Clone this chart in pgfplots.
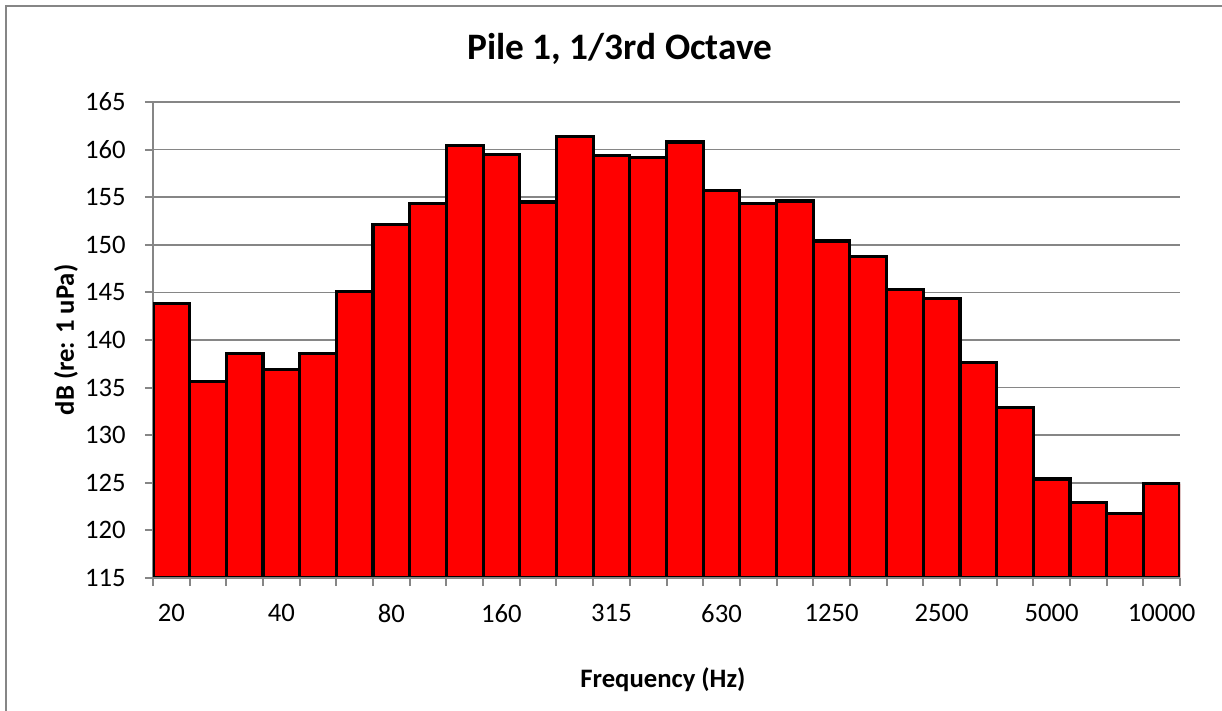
\documentclass[border=0pt]{standalone}
\usepackage{pgfplots}
\pgfplotsset{compat=1.18}
\usepackage{pgfplotstable}
\usepackage{fontspec}
\setmainfont{Carlito}
\definecolor{axisgray}{HTML}{868686}
\definecolor{barred}{HTML}{FF0000}
\pgfplotstableread{
x y
0 143.8
1 135.6
2 138.6
3 136.9
4 138.6
5 145.1
6 152.1
7 154.3
8 160.4
9 159.5
10 154.5
11 161.35
12 159.4
13 159.2
14 160.8
15 155.7
16 154.3
17 154.6
18 150.4
19 148.8
20 145.3
21 144.4
22 137.6
23 132.95
24 125.4
25 122.9
26 121.8
27 124.9
}\pileone
\begin{document}
\begin{tikzpicture}
\path[use as bounding box] (0,0) rectangle (458.25pt,266.625pt);
\draw[axisgray, line width=0.75pt] (2.25pt,0) -- (2.25pt,264.56pt) -- (458.25pt,264.56pt);
\begin{axis}[
  at={(57.375pt,49.875pt)}, anchor=south west,
  scale only axis, width=385.125pt, height=178.5pt,
  xmin=-0.5, xmax=27.5, ymin=115, ymax=165,
  ytick={115,120,...,165},
  xtick={0,3,...,27},
  xticklabels={20,40,80,160,315,630,1250,2500,5000,10000},
  minor xtick={-0.5,0.5,...,27.5},
  axis x line*=bottom, axis y line*=left,
  axis line style={axisgray, line width=0.75pt, -},
  tick align=outside,
  tick pos=left,
  major tick length=3pt, minor tick length=3pt,
  major x tick style={draw=none},
  minor x tick style={axisgray, line width=0.75pt},
  major y tick style={axisgray, line width=0.75pt},
  ymajorgrids=true,
  major grid style={axisgray, line width=0.6pt},
  /pgf/number format/assume math mode=true,
  tick label style={font=\fontsize{10}{12}\selectfont, black},
  yticklabel style={xshift=-3.75pt},
  xticklabel style={yshift=-3.4pt},
  clip=true,
]
\addplot[ybar, bar width=1, bar shift=0pt, fill=barred, draw=black, line width=1.2pt] table[x=x, y=y] {\pileone};
\draw[axisgray, line width=0.75pt] (rel axis cs:0,0) -- (rel axis cs:1,0);
\end{axis}
\node[anchor=base, font=\fontsize{14}{17}\selectfont\bfseries] at (232.5pt,244.125pt) {Pile 1, 1/3rd Octave};
\node[rotate=90, font=\fontsize{10}{12}\selectfont\bfseries] at (24.75pt,139.125pt) {dB (re: 1 uPa)};
\node[anchor=base, font=\fontsize{10}{12}\selectfont\bfseries] at (248.6pt,8.625pt) {Frequency (Hz)};
\end{tikzpicture}
\end{document}
